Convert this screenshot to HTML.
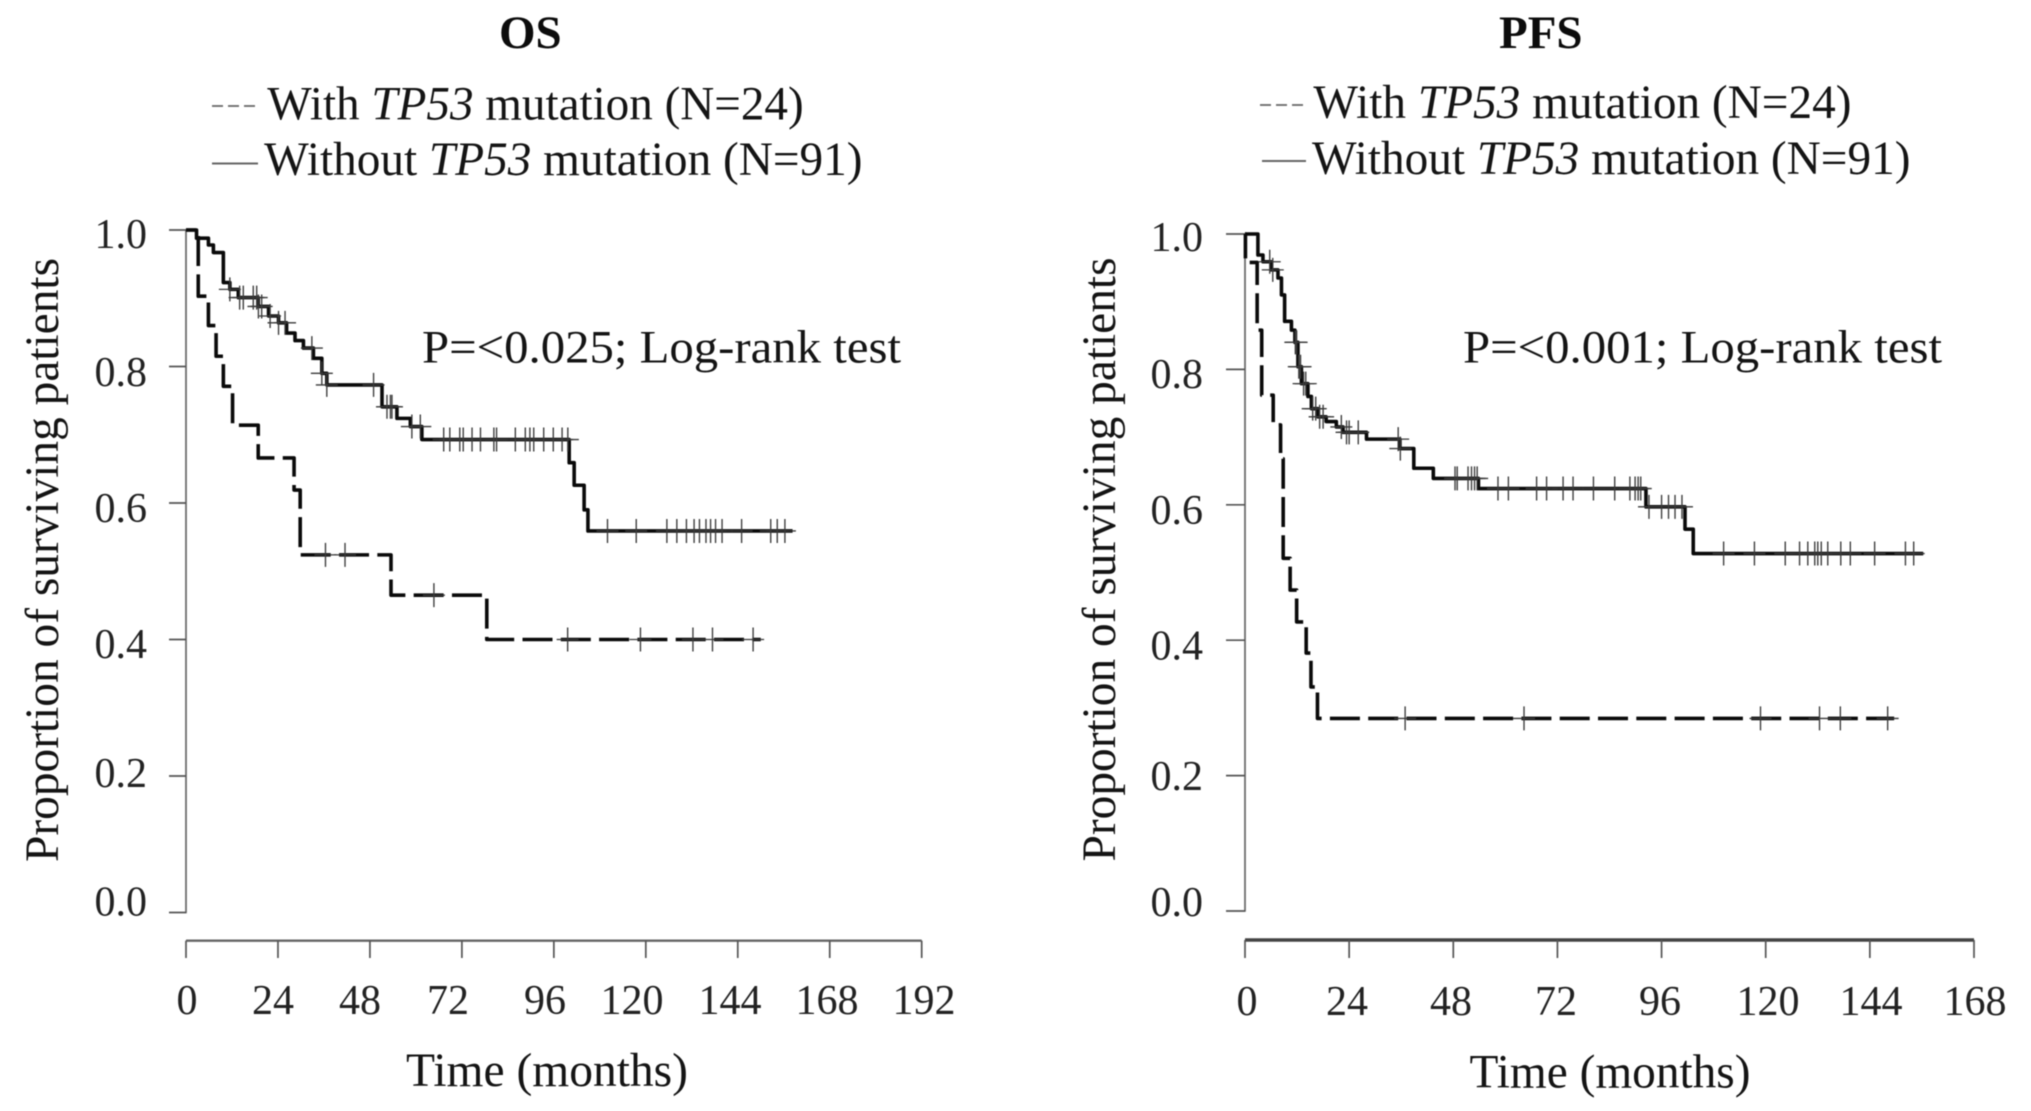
<!DOCTYPE html>
<html lang="en">
<head>
<meta charset="utf-8">
<title>TP53 mutation survival curves: OS and PFS</title>
<style>
html,body{margin:0;padding:0;background:#fff;}
#figure{display:block;width:2031px;height:1111px;background:#fff;filter:blur(0.55px);}
text{font-family:"Liberation Serif","Times New Roman",serif;fill:#141414;}
.tick-label{font-size:42px;fill:#222;}
.legend-text{font-size:48px;}
.axis-title{font-size:48px;}
.p-text{font-size:47px;}
.panel-title{font-size:47px;font-weight:bold;fill:#0c0c0c;}
</style>
</head>
<body>
<svg id="figure" xmlns="http://www.w3.org/2000/svg" width="2031" height="1111" viewBox="0 0 2031 1111">
  <rect x="0" y="0" width="2031" height="1111" fill="#fff"/>

  <!-- OS panel text -->
  <g id="os-panel">
    <text class="panel-title" x="499" y="48">OS</text>
    <line x1="212" y1="106" x2="259" y2="106" stroke="#666" stroke-width="1.7" stroke-dasharray="11 5"/>
    <text class="legend-text" transform="translate(267.3 119.6) scale(0.982 1)">With <tspan font-style="italic">TP53</tspan> mutation (N=24)</text>
    <line x1="212" y1="163.5" x2="258" y2="163.5" stroke="#666" stroke-width="2"/>
    <text class="legend-text" transform="translate(264.1 175) scale(0.985 1)">Without <tspan font-style="italic">TP53</tspan> mutation (N=91)</text>
    <text class="p-text" x="422" y="362.5" textLength="479" lengthAdjust="spacingAndGlyphs">P=&lt;0.025; Log-rank test</text>
    <text class="axis-title" transform="translate(58 862) rotate(-90)" textLength="604" lengthAdjust="spacingAndGlyphs">Proportion of surviving patients</text>
    <text class="axis-title" x="406" y="1086" textLength="282" lengthAdjust="spacingAndGlyphs">Time (months)</text>

    <g text-anchor="end">
      <text class="tick-label" x="147" y="248">1.0</text>
      <text class="tick-label" x="147" y="386">0.8</text>
      <text class="tick-label" x="147" y="522">0.6</text>
      <text class="tick-label" x="147" y="658">0.4</text>
      <text class="tick-label" x="147" y="787">0.2</text>
      <text class="tick-label" x="147" y="915.5">0.0</text>
    </g>
    <g text-anchor="middle">
      <text class="tick-label" x="187" y="1014">0</text>
      <text class="tick-label" x="273" y="1014">24</text>
      <text class="tick-label" x="360" y="1014">48</text>
      <text class="tick-label" x="448" y="1014">72</text>
      <text class="tick-label" x="545" y="1014">96</text>
      <text class="tick-label" x="632" y="1014">120</text>
      <text class="tick-label" x="730" y="1014">144</text>
      <text class="tick-label" x="827" y="1014">168</text>
      <text class="tick-label" x="924" y="1014">192</text>
    </g>
  </g>

  <!-- PFS panel text -->
  <g id="pfs-panel">
    <text class="panel-title" x="1499" y="48">PFS</text>
    <line x1="1260" y1="105" x2="1306" y2="105" stroke="#666" stroke-width="1.7" stroke-dasharray="11 5"/>
    <text class="legend-text" transform="translate(1313.4 118) scale(0.985 1)">With <tspan font-style="italic">TP53</tspan> mutation (N=24)</text>
    <line x1="1262" y1="161" x2="1306" y2="161" stroke="#666" stroke-width="2"/>
    <text class="legend-text" transform="translate(1312 174) scale(0.985 1)">Without <tspan font-style="italic">TP53</tspan> mutation (N=91)</text>
    <text class="p-text" x="1463" y="362.5" textLength="479" lengthAdjust="spacingAndGlyphs">P=&lt;0.001; Log-rank test</text>
    <text class="axis-title" transform="translate(1115 861.5) rotate(-90)" textLength="604" lengthAdjust="spacingAndGlyphs">Proportion of surviving patients</text>
    <text class="axis-title" x="1469.5" y="1087.5" textLength="281" lengthAdjust="spacingAndGlyphs">Time (months)</text>

    <g text-anchor="end">
      <text class="tick-label" x="1203" y="251">1.0</text>
      <text class="tick-label" x="1203" y="388">0.8</text>
      <text class="tick-label" x="1203" y="524">0.6</text>
      <text class="tick-label" x="1203" y="659.5">0.4</text>
      <text class="tick-label" x="1203" y="790">0.2</text>
      <text class="tick-label" x="1203" y="916">0.0</text>
    </g>
    <g text-anchor="middle">
      <text class="tick-label" x="1247" y="1015">0</text>
      <text class="tick-label" x="1347" y="1015">24</text>
      <text class="tick-label" x="1451" y="1015">48</text>
      <text class="tick-label" x="1556" y="1015">72</text>
      <text class="tick-label" x="1660" y="1015">96</text>
      <text class="tick-label" x="1768" y="1015">120</text>
      <text class="tick-label" x="1871" y="1015">144</text>
      <text class="tick-label" x="1975" y="1015">168</text>
    </g>
  </g>
</svg>

<script>
// ---- Chart data ----
var yTickValues = [0, 0.2, 0.4, 0.6, 0.8, 1.0];
var osXTickValues = [0, 24, 48, 72, 96, 120, 144, 168, 192];
var pfsXTickValues = [0, 24, 48, 72, 96, 120, 144, 168];

// OS, without TP53 mutation
var osWithoutTimes = [2.75, 5.85, 7.15, 9.75, 11.45, 13.65, 18.85, 21.55, 24.15, 26.25, 28.45, 30.65, 33.25, 35.45, 36.75, 51.15, 55.05, 58.55, 61.55, 100, 101.3, 103.9, 104.9];
var osWithoutSurvival = [0.988, 0.978, 0.967, 0.923, 0.913, 0.901, 0.888, 0.874, 0.864, 0.849, 0.838, 0.827, 0.812, 0.79, 0.773, 0.741, 0.724, 0.712, 0.693, 0.659, 0.626, 0.59, 0.559];
var osWithoutCensored = [11.45, 14, 14.95, 17.55, 18.45, 18.9, 19.75, 21.95, 24.15, 25.85, 32.85, 35.45, 36.75, 48.95, 52.45, 53.35, 53.75, 58.95, 61.15, 67.25, 68.85, 71.45, 72.35, 74.65, 76.85, 80.35, 81.05, 85.95, 88.55, 89.75, 90.75, 93.35, 95.85, 98.15, 99.65, 110, 117.5, 125.5, 128.1, 130.6, 132.6, 134, 135.7, 136.9, 138.2, 139.9, 145, 152.6, 154.3, 156.3];
var osWithoutEnd = 158.3;

// OS, with TP53 mutation
var osWithTimes = [3.2, 5.85, 7.85, 9.75, 12.15, 18.85, 28.2, 29.8, 53.5, 78.5];
var osWithSurvival = [0.903, 0.86, 0.815, 0.771, 0.714, 0.666, 0.619, 0.524, 0.465, 0.4];
var osWithCensored = [36.4, 41.5, 64.7, 99.6, 118.6, 132.3, 137.4, 148];
var osWithEnd = 150;

// PFS, without TP53 mutation
var pfsWithoutTimes = [2.98, 4.14, 6.06, 7.6, 8.4, 9.13, 10.7, 11.5, 12.2, 13, 14.5, 15.3, 16.8, 18.7, 21.05, 22.6, 28, 35.7, 38.9, 43.4, 53.8, 92.4, 101.4, 103.3];
var pfsWithoutSurvival = [0.969, 0.959, 0.947, 0.935, 0.91, 0.871, 0.858, 0.84, 0.804, 0.779, 0.76, 0.742, 0.73, 0.723, 0.715, 0.707, 0.697, 0.683, 0.654, 0.639, 0.624, 0.597, 0.564, 0.528];
var pfsWithoutCensored = [5.7, 6.4, 11.6, 11.9, 12.4, 12.8, 13.5, 14, 15.6, 16.3, 17.2, 18, 22.2, 23.4, 24, 26.1, 35.3, 35.8, 48.4, 48.9, 51.4, 52.2, 52.9, 53.5, 58.3, 60.7, 67.2, 69.5, 73.3, 75.6, 80.3, 85.2, 88.7, 89.9, 90.6, 91.2, 93.1, 96, 97.6, 99.1, 100.7, 110.3, 117.4, 124.5, 127.8, 129.7, 131.3, 132, 132.8, 134.3, 137.3, 139.5, 145.1, 152.2, 154.1];
var pfsWithoutEnd = 156.3;

// PFS, with TP53 mutation
var pfsWithTimes = [0.1, 2.8, 3.85, 6.5, 8.2, 8.8, 10.4, 11.9, 14.1, 15.2, 16.7];
var pfsWithSurvival = [0.958, 0.858, 0.762, 0.718, 0.668, 0.521, 0.474, 0.427, 0.381, 0.331, 0.2845];
var pfsWithCensored = [36.9, 64.3, 118.8, 132.4, 137.2, 148.1];
var pfsWithEnd = 149.6;

var SVGNS = 'http://www.w3.org/2000/svg';

function makeAxisX(x0, x1, tMax) {
  return function (t) { return x0 + t * (x1 - x0) / tMax; };
}
function makeAxisY(yZero, yOne) {
  return function (s) { return yZero + s * (yOne - yZero); };
}
function survivalAt(times, surv, t) {
  var s = 1;
  for (var i = 0; i < times.length; i++) {
    if (t >= times[i]) { s = surv[i]; }
  }
  return s;
}
function addLine(parent, x1, y1, x2, y2, color, width) {
  var l = document.createElementNS(SVGNS, 'line');
  l.setAttribute('x1', x1);
  l.setAttribute('y1', y1);
  l.setAttribute('x2', x2);
  l.setAttribute('y2', y2);
  l.setAttribute('stroke', color);
  l.setAttribute('stroke-width', width);
  parent.appendChild(l);
  return l;
}
function drawCurve(parent, prefix, X, Y, times, surv, censored, end, dashed, dashOffset) {
  var group = document.createElementNS(SVGNS, 'g');
  
  
  parent.appendChild(group);

  var d = 'M' + X(0) + ' ' + Y(1);
  for (var i = 0; i < times.length; i++) {
    d += ' H' + X(times[i]).toFixed(2) + ' V' + Y(surv[i]).toFixed(2);
  }
  d += ' H' + X(end).toFixed(2);

  var path = document.createElementNS(SVGNS, 'path');
  path.setAttribute('d', d);
  path.setAttribute('fill', 'none');
  path.setAttribute('stroke', '#0a0a0a');
  path.setAttribute('stroke-width', '3.6');
  path.setAttribute('stroke-linejoin', 'round');
  if (dashed) {
    path.setAttribute('stroke-dasharray', '30 8.3');
    path.setAttribute('stroke-dashoffset', dashOffset);
  }
  
  
  group.appendChild(path);

  for (var j = 0; j < censored.length; j++) {
    var cx = X(censored[j]);
    var cy = Y(survivalAt(times, surv, censored[j]));
    var mark = document.createElementNS(SVGNS, 'path');
    mark.setAttribute('d', 'M' + (cx - 11) + ' ' + cy + ' H' + (cx + 11) + ' M' + cx + ' ' + (cy - 12) + ' V' + (cy + 12));
    mark.setAttribute('fill', 'none');
    mark.setAttribute('stroke', '#3a3a3a');
    mark.setAttribute('stroke-width', '1.35');
    
    
    group.appendChild(mark);
  }
}
function drawAxes(parent, prefix, X, Y, xTicks, yTicks, yTickLeft, xAxisY, xAxisWidth, xAxisColor) {
  var g = document.createElementNS(SVGNS, 'g');
  
  
  parent.insertBefore(g, parent.firstChild);

  var yLine = addLine(g, X(0), Y(0) + 0.8, X(0), Y(1) - 0.8, '#666', 1.7);
  
  
  yTicks.forEach(function (v) {
    var t = addLine(g, yTickLeft, Y(v), X(0), Y(v), '#555', 1.7);
    
    
  });

  var xLine = addLine(g, X(xTicks[0]), xAxisY, X(xTicks[xTicks.length - 1]), xAxisY, xAxisColor, xAxisWidth);
  
  
  xTicks.forEach(function (v) {
    var t = addLine(g, X(v), xAxisY, X(v), 958, '#555', 1.7);
    
    
  });
}

// ---- OS panel ----
var osPanel = document.getElementById('os-panel');
var osX = makeAxisX(186, 921.7, 192);
var osY = makeAxisY(912.5, 230);
drawCurve(osPanel, 'os-with-tp53', osX, osY, osWithTimes, osWithSurvival, osWithCensored, osWithEnd, true, 20);
drawCurve(osPanel, 'os-without-tp53', osX, osY, osWithoutTimes, osWithoutSurvival, osWithoutCensored, osWithoutEnd, false, 0);
drawAxes(osPanel, 'os', osX, osY, osXTickValues, yTickValues, 169, 940.7, 2.4, '#666');

// ---- PFS panel ----
var pfsPanel = document.getElementById('pfs-panel');
var pfsX = makeAxisX(1245, 1974, 168);
var pfsY = makeAxisY(911, 234);
drawCurve(pfsPanel, 'pfs-with-tp53', pfsX, pfsY, pfsWithTimes, pfsWithSurvival, pfsWithCensored, pfsWithEnd, true, 5.2);
drawCurve(pfsPanel, 'pfs-without-tp53', pfsX, pfsY, pfsWithoutTimes, pfsWithoutSurvival, pfsWithoutCensored, pfsWithoutEnd, false, 0);
drawAxes(pfsPanel, 'pfs', pfsX, pfsY, pfsXTickValues, yTickValues, 1226, 940, 3.4, '#444');
</script>
</body>
</html>
